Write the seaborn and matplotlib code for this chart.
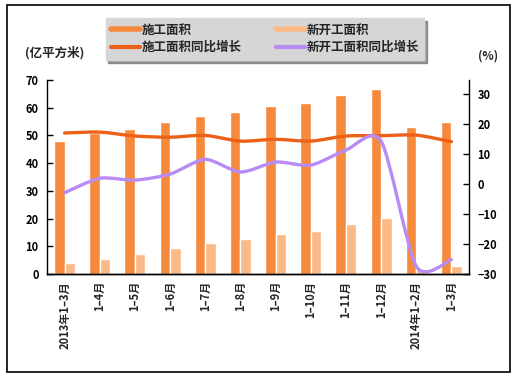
"""
全国房屋施工面积与新开工面积（2013年1-3月 至 2014年1-3月）
柱状图：面积（亿平方米），平滑曲线：同比增长（%）
"""

import numpy as np
import pandas as pd
import matplotlib
matplotlib.use("Agg")
import matplotlib.pyplot as plt
import seaborn as sns
from matplotlib.path import Path
from matplotlib.patches import PathPatch, Rectangle
from matplotlib.lines import Line2D

# Datos
periodos = ["2013年1–3月", "1–4月", "1–5月", "1–6月", "1–7月", "1–8月",
            "1–9月", "1–10月", "1–11月", "1–12月", "2014年1–2月", "1–3月"]
shigong_area = [48.0, 50.8, 52.2, 54.8, 57.0, 58.5, 60.6, 61.6, 64.6, 66.8, 53.0, 54.8]
xinkaigong_area = [4.1, 5.4, 7.2, 9.5, 11.2, 12.6, 14.4, 15.5, 18.0, 20.3, 1.9, 3.0]
shigong_growth = [17.0, 17.3, 16.0, 15.6, 16.2, 14.3, 14.9, 14.3, 16.0, 16.1, 16.3, 14.1]
xinkaigong_growth = [-2.9, 1.9, 1.3, 3.3, 8.2, 4.0, 7.3, 6.3, 11.3, 14.3, -27.4, -25.2]

serie_a = "施工面积"
serie_b = "新开工面积"
serie_c = "施工面积同比增长"
serie_d = "新开工面积同比增长"

c_bar_a = "#F68A3C"
c_bar_b = "#F9BA88"
c_line_a = "#EC6117"
c_line_d = "#B98BF5"

df = pd.DataFrame({
    "periodo": periodos * 2,
    "valor": shigong_area + xinkaigong_area,
    "serie": [serie_a] * len(periodos) + [serie_b] * len(periodos),
})

sns.set_style("white")
plt.rcParams["font.family"] = ["Noto Sans CJK SC", "DejaVu Sans"]
plt.rcParams["font.weight"] = "bold"

fig = plt.figure(figsize=(5.18, 3.75), dpi=100)
ax = fig.add_axes([47 / 518, 1 - 274 / 375, 422 / 518, 194 / 375])

# Barras
sns.barplot(data=df, x="periodo", y="valor", hue="serie", order=periodos,
            hue_order=[serie_a, serie_b], palette=[c_bar_a, c_bar_b],
            width=0.6, saturation=1, legend=False, ax=ax)
ax.set_xlim(-0.5, len(periodos) - 0.5)
ax.set_ylim(0, 70)
ax.set_yticks(range(0, 71, 10))
ax.set_xlabel("")
ax.set_ylabel("")

# Eje derecho con las curvas suavizadas
ax2 = ax.twinx()
ax2.set_ylim(-30, 34.67)
ax2.set_yticks(range(-30, 31, 10))


def curva_suave(axis, ys, color, lw, k=0.13):
    # Bezier tipo Catmull-Rom a través de los puntos (como el "suavizado" de Excel)
    xs = np.arange(len(ys), dtype=float)
    pts = np.column_stack([xs, np.asarray(ys, dtype=float)])
    ext = np.vstack([pts[0], pts, pts[-1]])
    verts = [pts[0]]
    codes = [Path.MOVETO]
    for i in range(len(pts) - 1):
        p0, p1, p2, p3 = ext[i], ext[i + 1], ext[i + 2], ext[i + 3]
        verts += [p1 + (p2 - p0) * k, p2 - (p3 - p1) * k, p2]
        codes += [Path.CURVE4] * 3
    patch = PathPatch(Path(verts, codes), facecolor="none", edgecolor=color,
                      lw=lw, transform=axis.transData, clip_on=False,
                      capstyle="round", joinstyle="round")
    axis.add_patch(patch)


curva_suave(ax2, shigong_growth, c_line_a, 2.4)
curva_suave(ax2, xinkaigong_growth, c_line_d, 2.4)

# Estilo de ejes
for a in (ax, ax2):
    a.spines["top"].set_visible(False)
    for s in ("left", "right", "bottom"):
        a.spines[s].set_color("black")
        a.spines[s].set_linewidth(1.0)
    a.tick_params(axis="y", direction="in", length=4, width=1, labelsize=8, colors="black")

ax.spines["right"].set_visible(False)
ax2.spines["left"].set_visible(False)

ax.set_xticks(range(len(periodos)))
ax.set_xticklabels(periodos, rotation=90, fontsize=8, fontweight="bold")
ax.tick_params(axis="x", which="major", length=0, pad=5)
ax.set_xticks(np.arange(-0.5, len(periodos), 1.0), minor=True)
ax.tick_params(axis="x", which="minor", direction="in", length=4, width=1, color="black")
ax.tick_params(axis="y", pad=6)
ax2.tick_params(axis="y", pad=6)
for lbl in ax.get_yticklabels() + ax2.get_yticklabels():
    lbl.set_fontweight("bold")

# Unidades
fig.text(25 / 518, 1 - 53 / 375, "(亿平方米)", fontsize=9, fontweight="bold",
         ha="left", va="center")
fig.text(488 / 518, 1 - 56 / 375, "(%)", fontsize=8.5, fontweight="bold",
         ha="center", va="center")

# Leyenda
handles = [
    Line2D([], [], color=c_bar_a, lw=4),
    Line2D([], [], color=c_line_a, lw=3),
    Line2D([], [], color=c_bar_b, lw=4),
    Line2D([], [], color=c_line_d, lw=3),
]
etiquetas = [serie_a, serie_c, serie_b, serie_d]
leg = fig.legend(handles, etiquetas, ncol=2, loc="center",
                 bbox_to_anchor=(265 / 518, 1 - 39 / 375),
                 frameon=True, fancybox=False, shadow=True,
                 facecolor="#D6D6D6", edgecolor="#D6D6D6", framealpha=1,
                 prop={"size": 9, "weight": "bold"},
                 handlelength=2.3, handletextpad=0.1, columnspacing=2.8,
                 labelspacing=0.35, borderpad=0.45)

# Marco exterior
fig.patches.append(Rectangle((7 / 518, 1 - 372 / 375), 503 / 518, 367 / 375,
                             transform=fig.transFigure, fill=False,
                             edgecolor="black", lw=1.2))

fig.savefig("out.png", dpi=100)
